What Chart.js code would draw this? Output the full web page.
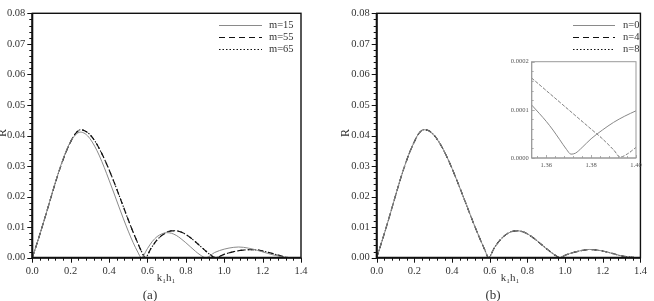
<!DOCTYPE html>
<html><head><meta charset="utf-8">
<script src="https://cdn.jsdelivr.net/npm/chart.js@4/dist/chart.umd.min.js"></script>
<style>
html,body{margin:0;padding:0;background:#fff;width:654px;height:301px;overflow:hidden;}
.c{position:absolute;}
.t{position:absolute;font-family:'Liberation Serif','Times New Roman',serif;color:#333;white-space:nowrap;transform:translate(-50%,-50%);line-height:1;}
</style></head><body>
<div class="c" style="left:0;top:0;width:327px;height:301px"><canvas id="ca"></canvas></div>
<div class="c" style="left:330px;top:0;width:324px;height:301px"><canvas id="cb"></canvas></div>
<div class="c" style="left:500px;top:52px;width:145px;height:120px"><canvas id="ci"></canvas></div>
<div class="t" style="left:2px;top:133px;font-size:12px;transform:translate(-50%,-50%) rotate(-90deg)">R</div>
<div class="t" style="left:345px;top:133px;font-size:12px;transform:translate(-50%,-50%) rotate(-90deg)">R</div>
<div class="t" style="left:166px;top:277px;font-size:11px">k₁h₁</div>
<div class="t" style="left:510px;top:277px;font-size:11px">k₁h₁</div>
<div class="t" style="left:150px;top:294px;font-size:13px">(a)</div>
<div class="t" style="left:493px;top:294px;font-size:13px">(b)</div>
<script>
// ---- tick values ----
const xTickValues = [0, 0.2, 0.4, 0.6, 0.8, 1.0, 1.2, 1.4];
const yTickValues = [0, 0.01, 0.02, 0.03, 0.04, 0.05, 0.06, 0.07, 0.08];
const insetXTicks = [1.36, 1.38, 1.40];
const insetYTicks = [0, 0.0001, 0.0002];

// ---- panel (a) ----
const m15X = [0,0.025,0.05,0.075,0.1,0.125,0.15,0.175,0.2,0.225,0.25,0.275,0.3,0.325,0.35,0.375,0.4,0.425,0.45,0.475,0.5,0.525,0.55,0.568,
  0.6,0.625,0.65,0.675,0.7,0.725,0.75,0.775,0.8,0.825,0.85,0.875,0.905,
  0.95,1.0,1.05,1.075,1.1,1.15,1.2,1.25,1.3,1.33];
const m15Y = [0,0.0048,0.0098,0.0150,0.0204,0.0256,0.0305,0.0347,0.0381,0.0402,0.0411,0.0406,0.0390,0.0365,0.0333,0.0295,0.0254,0.0212,0.0169,0.0127,0.0087,0.0050,0.0018,0,
  0.0030,0.0053,0.0069,0.0078,0.0082,0.0080,0.0073,0.0062,0.0049,0.0035,0.0021,0.0009,0,
  0.0017,0.0028,0.0034,0.0035,0.0034,0.0028,0.0019,0.0010,0.0003,0];
const m55X = [0,0.025,0.05,0.075,0.1,0.125,0.15,0.175,0.2,0.225,0.25,0.275,0.3,0.325,0.35,0.375,0.4,0.425,0.45,0.475,0.5,0.525,0.55,0.575,0.588,
  0.62,0.65,0.675,0.7,0.725,0.75,0.775,0.8,0.825,0.85,0.875,0.9,0.925,0.955,
  1.0,1.05,1.1,1.125,1.15,1.2,1.25,1.3,1.335];
const m55Y = [0,0.0048,0.0098,0.0150,0.0203,0.0255,0.0303,0.0345,0.0380,0.0406,0.0419,0.0415,0.0403,0.0383,0.0356,0.0324,0.0288,0.0249,0.0208,0.0166,0.0124,0.0084,0.0047,0.0013,0,
  0.0032,0.0058,0.0073,0.0083,0.0088,0.0088,0.0084,0.0076,0.0065,0.0052,0.0038,0.0024,0.0011,0,
  0.0011,0.0020,0.0025,0.0026,0.0026,0.0022,0.0014,0.0005,0];
const m65X = m55X.slice();
const m65Y = m55Y.slice();

// ---- panel (b) ----
const n0X = [0,0.025,0.05,0.075,0.1,0.125,0.15,0.175,0.2,0.225,0.25,0.275,0.3,0.325,0.35,0.375,0.4,0.425,0.45,0.475,0.5,0.525,0.55,0.575,0.593,
  0.625,0.65,0.675,0.7,0.725,0.75,0.775,0.8,0.825,0.85,0.875,0.9,0.925,0.95,0.972,
  1.0,1.05,1.1,1.13,1.15,1.2,1.25,1.3,1.3535,1.371,1.4];
const n0Y = [0,0.0048,0.0098,0.0150,0.0203,0.0255,0.0303,0.0345,0.0380,0.0408,0.0419,0.0416,0.0404,0.0384,0.0358,0.0327,0.0292,0.0254,0.0215,0.0175,0.0135,0.0096,0.0059,0.0024,0,
  0.0033,0.0054,0.0070,0.0081,0.0087,0.0088,0.0085,0.0078,0.0068,0.0056,0.0043,0.0030,0.0018,0.0007,0,
  0.0008,0.0018,0.0025,0.0027,0.0026,0.0022,0.0014,0.0006,0.00011,0.00001,0.0001];
const n4X = [0,0.025,0.05,0.075,0.1,0.125,0.15,0.175,0.2,0.225,0.25,0.275,0.3,0.325,0.35,0.375,0.4,0.425,0.45,0.475,0.5,0.525,0.55,0.575,0.593,
  0.625,0.65,0.675,0.7,0.725,0.75,0.775,0.8,0.825,0.85,0.875,0.9,0.925,0.95,0.972,
  1.0,1.05,1.1,1.13,1.15,1.2,1.25,1.3,1.3535,1.393,1.4];
const n4Y = [0,0.0048,0.0098,0.0150,0.0203,0.0255,0.0303,0.0345,0.0380,0.0408,0.0419,0.0416,0.0404,0.0384,0.0358,0.0327,0.0292,0.0254,0.0215,0.0175,0.0135,0.0096,0.0059,0.0024,0,
  0.0033,0.0054,0.0070,0.0081,0.0087,0.0088,0.0085,0.0078,0.0068,0.0056,0.0043,0.0030,0.0018,0.0007,0,
  0.0008,0.0018,0.0025,0.0027,0.0026,0.0022,0.0014,0.0006,0.000166,0,0.000022];
const n8X = n4X.slice();
const n8Y = n4Y.slice();

// ---- inset ----
const insN0X = [1.3535,1.357,1.36,1.363,1.366,1.369,1.371,1.373,1.376,1.38,1.385,1.39,1.395,1.40];
const insN0Y = [0.000110,0.000092,0.000076,0.000058,0.000038,0.000018,0.000008,0.000010,0.000022,0.000040,0.000058,0.000074,0.000087,0.000098];
const insN4X = [1.3535,1.36,1.365,1.37,1.375,1.38,1.385,1.39,1.393,1.396,1.40];
const insN4Y = [0.000166,0.000140,0.000120,0.000100,0.000080,0.000060,0.000040,0.000017,0.000002,0.000008,0.000022];
const insN8X = insN4X.slice();
const insN8Y = insN4Y.slice();

const FONT = "'Liberation Serif','Times New Roman',serif";
const pts = (xs, ys) => xs.map((x, i) => ({x, y: ys[i]}));

const framePlugin = {
  id: 'frame',
  afterDraw(chart, args, o) {
    const {ctx, chartArea: a} = chart;
    const xs = chart.scales.x, ys = chart.scales.y;
    ctx.save();
    ctx.strokeStyle = o.color;
    const drawTicks = (scale, vals, len, horiz) => {
      ctx.lineWidth = o.tickWidth;
      ctx.beginPath();
      for (const v of vals) {
        const p = Math.round(scale.getPixelForValue(v)) + 0.5;
        if (horiz) { ctx.moveTo(p, a.bottom); ctx.lineTo(p, a.bottom + len * o.dir); }
        else { ctx.moveTo(a.left, p); ctx.lineTo(a.left - len * o.dir, p); }
      }
      ctx.stroke();
    };
    const minors = (majors, n, min, max) => {
      const step = (majors[1] - majors[0]) / (n + 1);
      const out = [];
      const start = Math.ceil((min - 1e-12) / step);
      for (let k = start; k * step <= max + 1e-12; k++) {
        const v = k * step;
        if (!majors.some(m => Math.abs(m - v) < step * 0.1)) out.push(v);
      }
      return out;
    };
    drawTicks(xs, o.xMajor, o.majorLen, true);
    drawTicks(ys, o.yMajor, o.majorLen, false);
    drawTicks(xs, minors(o.xMajor, o.minorN, xs.min, xs.max), o.minorLen, true);
    drawTicks(ys, minors(o.yMajor, o.minorN, ys.min, ys.max), o.minorLen, false);
    ctx.lineWidth = o.frameWidth;
    ctx.strokeRect(a.left, a.top, a.right - a.left, a.bottom - a.top);
    ctx.lineWidth = o.axisWidth;
    ctx.beginPath();
    ctx.moveTo(a.left, a.top); ctx.lineTo(a.left, a.bottom); ctx.lineTo(a.right, a.bottom);
    ctx.stroke();
    if (o.legend) {
      const L = o.legend;
      ctx.font = '10.5px ' + FONT;
      ctx.textBaseline = 'middle';
      ctx.fillStyle = '#333';
      chart.data.datasets.forEach((ds, i) => {
        const y = L.ys[i] + 0.5;
        ctx.save();
        ctx.strokeStyle = ds.borderColor;
        ctx.lineWidth = ds.borderWidth;
        ctx.setLineDash(ds.borderDash || []);
        ctx.beginPath(); ctx.moveTo(L.x1, y); ctx.lineTo(L.x2, y); ctx.stroke();
        ctx.restore();
        ctx.fillText(ds.label, L.tx, y);
      });
    }
    ctx.restore();
  }
};

function makeChart(id, datasets, g) {
  return new Chart(document.getElementById(id), {
    type: 'line',
    data: { datasets },
    options: {
      responsive: true, maintainAspectRatio: false, animation: false, devicePixelRatio: 1,
      layout: { padding: { left: g.padL, right: g.padR, top: g.padT, bottom: 0 } },
      elements: { point: { radius: 0 }, line: { cubicInterpolationMode: 'monotone' } },
      plugins: { legend: { display: false }, tooltip: { enabled: false }, frame: g.frame },
      scales: {
        x: { type: 'linear', min: g.xMin, max: g.xMax,
             grid: { display: false, drawTicks: false }, border: { display: false },
             afterBuildTicks: s => { s.ticks = g.xTicks.map(v => ({ value: v })); },
             afterFit: s => { s.height = g.xH; },
             ticks: { padding: g.xPad, color: g.labelColor, font: { family: FONT, size: g.fontSize },
                      maxRotation: 0, autoSkip: false, callback: v => v.toFixed(g.xDec) } },
        y: { type: 'linear', min: g.yMin, max: g.yMax,
             grid: { display: false, drawTicks: false }, border: { display: false },
             afterBuildTicks: s => { s.ticks = g.yTicks.map(v => ({ value: v })); },
             afterFit: s => { s.width = g.yW; },
             ticks: { padding: g.yPad, color: g.labelColor, font: { family: FONT, size: g.fontSize },
                      autoSkip: false, callback: v => v.toFixed(g.yDec) } }
      }
    },
    plugins: [framePlugin]
  });
}

const solid = (label, x, y, color) => ({ label, data: pts(x, y), borderColor: color, borderWidth: 1, borderDash: [], fill: false });
const dashed = (label, x, y, color, dash, w) => ({ label, data: pts(x, y), borderColor: color, borderWidth: w, borderDash: dash, fill: false });

const mainFrame = (legend) => ({ color: '#111', tickWidth: 1, majorLen: 5, minorLen: 3, minorN: 4, dir: 1,
  frameWidth: 1.4, axisWidth: 2, xMajor: xTickValues, yMajor: yTickValues, legend });

const mainGeom = (padL, padR, legend) => ({ padL, padR, padT: 7.3, xH: 43.3, yW: 32.3,
  xMin: 0, xMax: 1.4, yMin: 0, yMax: 0.08, xTicks: xTickValues, yTicks: yTickValues,
  xDec: 1, yDec: 2, xPad: 7, yPad: 7, fontSize: 10.5, labelColor: '#333', frame: mainFrame(legend) });

makeChart('ca', [
  solid('m=15', m15X, m15Y, '#8a8a8a'),
  dashed('m=55', m55X, m55Y, '#111', [6, 4], 1.2),
  dashed('m=65', m65X, m65Y, '#111', [1.5, 2], 1.1)
], mainGeom(0, 26, { x1: 219, x2: 262, tx: 269, ys: [25, 37, 49] }));

makeChart('cb', [
  solid('n=0', n0X, n0Y, '#8a8a8a'),
  dashed('n=4', n4X, n4Y, '#111', [6, 4], 1.2),
  dashed('n=8', n8X, n8Y, '#111', [1.5, 2], 1.1)
], mainGeom(14.4, 8.7, { x1: 243, x2: 285, tx: 293, ys: [25, 37, 49] }));

makeChart('ci', [
  solid('n=0', insN0X, insN0Y, '#888'),
  dashed('n=4', insN4X, insN4Y, '#888', [3, 2], 1),
  dashed('n=8', insN8X, insN8Y, '#999', [1, 1.5], 0.8)
], { padL: 5, padR: 9, padT: 9.7, xH: 14, yW: 26.7,
  xMin: 1.3535, xMax: 1.40, yMin: 0, yMax: 0.0002, xTicks: insetXTicks, yTicks: insetYTicks,
  xDec: 2, yDec: 4, xPad: 3, yPad: 3, fontSize: 6.5, labelColor: '#555',
  frame: { color: '#999', tickWidth: 0.8, majorLen: 3, minorLen: 2, minorN: 4, dir: -1,
    frameWidth: 1, axisWidth: 1, xMajor: insetXTicks, yMajor: insetYTicks, legend: null } });
</script>
</body></html>
